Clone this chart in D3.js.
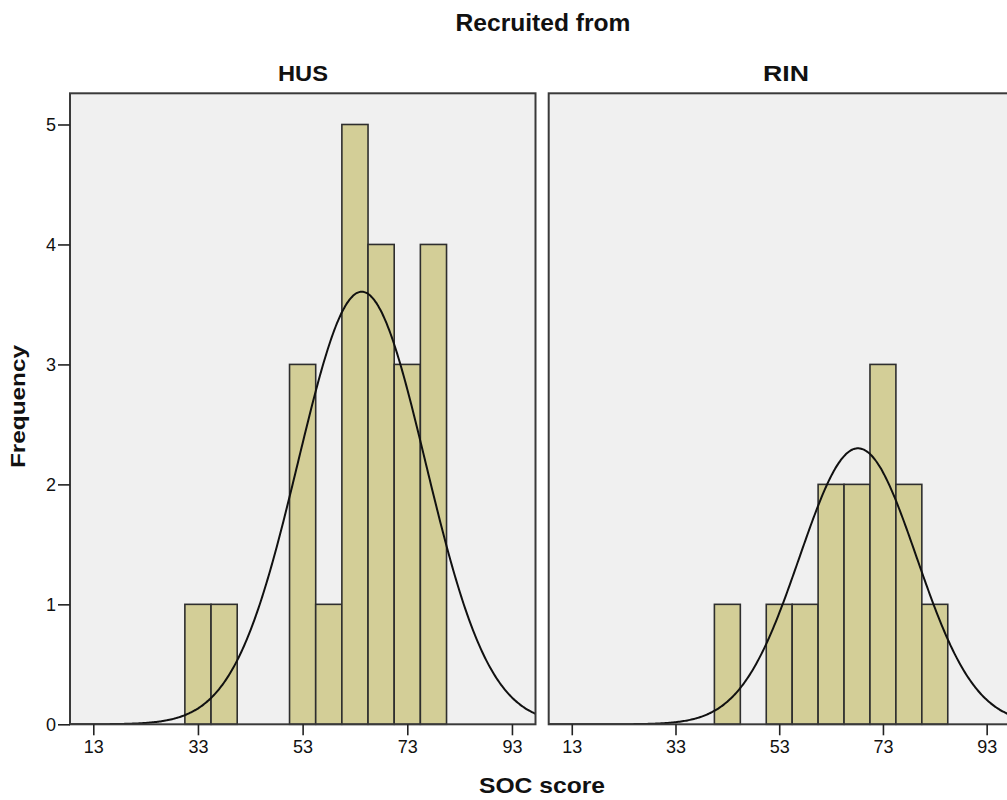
<!DOCTYPE html>
<html>
<head>
<meta charset="utf-8">
<script src="https://cdn.jsdelivr.net/npm/d3@7/dist/d3.min.js"></script>
<style>
  html, body { margin: 0; padding: 0; background: #fff; }
  svg { display: block; font-family: "Liberation Sans", Arial, sans-serif; }
</style>
</head>
<body>
<svg id="chart" width="1007" height="800"></svg>
<script>
// SOC score histograms by recruitment site, 5-point bins
const binLower = [30.5, 35.5, 40.5, 45.5, 50.5, 55.5, 60.5, 65.5, 70.5, 75.5, 80.5];
const binWidth = 5;
const groups = ["HUS", "RIN"];
const countsHUS = [1, 1, 0, 0, 3, 1, 5, 4, 3, 4, 0];
const countsRIN = [0, 0, 1, 0, 1, 1, 2, 2, 3, 2, 1];
// fitted normal curve parameters per group
const groupMeans = [64.3, 68.2];
const groupSDs = [12.17, 11.27];
const xTicks = [13, 33, 53, 73, 93];
const yTicks = [0, 1, 2, 3, 4, 5];

const counts = [countsHUS, countsRIN];
const svg = d3.select("#chart");

const plotTop = 93.3, plotBottom = 724.3;
const panels = [
  { x0: 70, x1: 535.5, labelX: 303, labelLen: 50 },
  { x0: 548.7, x1: 1010, labelX: 786, labelLen: 46 }
];
const xDomain = [8.55, 97.5];
const y = d3.scaleLinear().domain([0, 5.26]).range([plotBottom, plotTop]);

const defs = svg.append("defs");

panels.forEach((p, i) => {
  const x = d3.scaleLinear().domain(xDomain).range([p.x0, p.x1]);
  const g = svg.append("g");

  defs.append("clipPath").attr("id", "clip" + i)
    .append("rect").attr("x", p.x0).attr("y", plotTop)
    .attr("width", p.x1 - p.x0).attr("height", plotBottom - plotTop);

  // panel background
  g.append("rect")
    .attr("x", p.x0).attr("y", plotTop)
    .attr("width", p.x1 - p.x0).attr("height", plotBottom - plotTop)
    .attr("fill", "#f0f0f0");

  // histogram bars
  const bins = binLower.map((lo, k) => ({ lo, n: counts[i][k] })).filter(d => d.n > 0);
  g.append("g").selectAll("rect").data(bins).join("rect")
    .attr("x", d => x(d.lo))
    .attr("y", d => y(d.n))
    .attr("width", d => x(d.lo + binWidth) - x(d.lo))
    .attr("height", d => y(0) - y(d.n))
    .attr("fill", "#d3ce97")
    .attr("stroke", "#2e2e2e")
    .attr("stroke-width", 1.6);

  // normal curve scaled to counts
  const n = d3.sum(counts[i]);
  const mu = groupMeans[i], sd = groupSDs[i];
  const pts = d3.range(xDomain[0], xDomain[1] + 0.25, 0.25).map(v => [
    v, n * binWidth / (sd * Math.sqrt(2 * Math.PI)) * Math.exp(-0.5 * ((v - mu) / sd) ** 2)
  ]);
  g.append("path")
    .attr("clip-path", `url(#clip${i})`)
    .attr("d", d3.line().x(d => x(d[0])).y(d => y(d[1])).curve(d3.curveBasis)(pts))
    .attr("fill", "none")
    .attr("stroke", "#111")
    .attr("stroke-width", 2);

  // panel frame
  g.append("rect")
    .attr("x", p.x0).attr("y", plotTop)
    .attr("width", p.x1 - p.x0).attr("height", plotBottom - plotTop)
    .attr("fill", "none")
    .attr("stroke", "#3a3a3a")
    .attr("stroke-width", 2);

  // x axis
  const xa = svg.append("g")
    .attr("transform", `translate(0,${plotBottom})`)
    .call(d3.axisBottom(x).tickValues(xTicks).tickSize(11).tickPadding(5).tickFormat(d3.format("d")));
  xa.select(".domain").remove();
  xa.selectAll(".tick line").attr("stroke", "#222").attr("stroke-width", 1.6);
  xa.selectAll(".tick text").attr("font-size", 18).attr("fill", "#111")
    .attr("font-family", "'Liberation Sans', Arial, sans-serif");

  // facet label
  svg.append("text")
    .attr("x", p.labelX)
    .attr("y", 81)
    .attr("text-anchor", "middle")
    .attr("font-size", 22).attr("font-weight", "bold").attr("fill", "#111")
    .attr("textLength", p.labelLen).attr("lengthAdjust", "spacingAndGlyphs")
    .text(groups[i]);
});

// y axis
const ya = svg.append("g")
  .attr("transform", `translate(${panels[0].x0},0)`)
  .call(d3.axisLeft(y).tickValues(yTicks).tickSize(12).tickPadding(2).tickFormat(d3.format("d")));
ya.select(".domain").remove();
ya.selectAll(".tick line").attr("stroke", "#222").attr("stroke-width", 1.6);
ya.selectAll(".tick text").attr("font-size", 18).attr("fill", "#111")
  .attr("font-family", "'Liberation Sans', Arial, sans-serif");

// titles
svg.append("text")
  .attr("x", 543).attr("y", 30.5)
  .attr("text-anchor", "middle")
  .attr("font-size", 23).attr("font-weight", "bold").attr("fill", "#111")
  .attr("textLength", 175).attr("lengthAdjust", "spacingAndGlyphs")
  .text("Recruited from");

svg.append("text")
  .attr("x", 542).attr("y", 793)
  .attr("text-anchor", "middle")
  .attr("font-size", 22).attr("font-weight", "bold").attr("fill", "#111")
  .attr("textLength", 126).attr("lengthAdjust", "spacingAndGlyphs")
  .text("SOC score");

svg.append("text")
  .attr("transform", "translate(25,406.5) rotate(-90)")
  .attr("text-anchor", "middle")
  .attr("font-size", 21).attr("font-weight", "bold").attr("fill", "#111")
  .attr("textLength", 123).attr("lengthAdjust", "spacingAndGlyphs")
  .text("Frequency");
</script>
</body>
</html>
